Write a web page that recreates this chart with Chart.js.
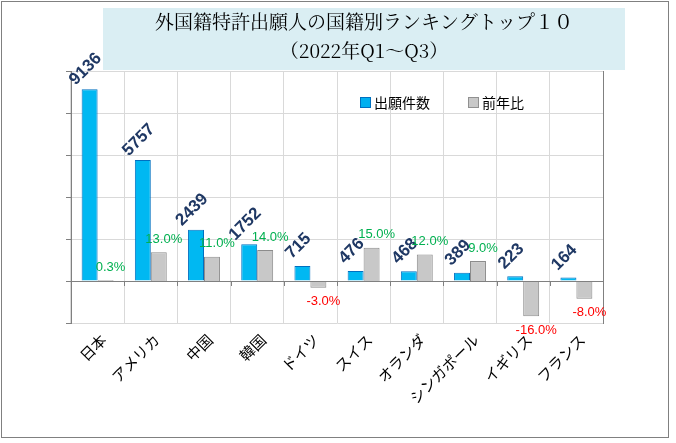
<!DOCTYPE html>
<html>
<head>
<meta charset="utf-8">
<script src="https://cdn.jsdelivr.net/npm/chart.js@4.4.0/dist/chart.umd.min.js"></script>
<style>
  html, body { margin: 0; padding: 0; background: #fff; }
  #wrap { position: relative; width: 676px; height: 443px; }
</style>
</head>
<body>
<div id="wrap"><canvas id="chart" width="676" height="443"></canvas></div>
<script>
    "use strict";

    // data
    var categories = ["日本", "アメリカ", "中国", "韓国", "ドイツ", "スイス", "オランダ", "シンガポール", "イギリス", "フランス"];
    var applications = [9136, 5757, 2439, 1752, 715, 476, 468, 389, 223, 164];
    var yoyChange = [0.3, 13.0, 11.0, 14.0, -3.0, 15.0, 12.0, 9.0, -16.0, -8.0];
    var titleLines = ["外国籍特許出願人の国籍別ランキングトップ１０", "（2022年Q1～Q3）"];
    var legendLabels = ["出願件数", "前年比"];

    // frame, title box, legend and labels
    var decor = {
        id: "decor",
        beforeDraw: function (chart) {
            var c = chart.ctx;
            c.save();
            c.fillStyle = "#fff";
            c.fillRect(0, 0, chart.width, chart.height);
            c.strokeStyle = "#808080";
            c.lineWidth = 1;
            c.strokeRect(1.5, 1.5, 667, 436);
            c.fillStyle = "#DAEEF3";
            c.fillRect(103, 8, 522, 62);
            c.fillStyle = "#000";
            c.font = "19px 'Noto Serif CJK JP', 'Noto Sans CJK JP', serif";
            c.textAlign = "center";
            c.textBaseline = "middle";
            c.fillText(titleLines[0], 364, 22);
            c.fillText(titleLines[1], 364, 51);
            c.restore();
        },
        afterDatasetsDraw: function (chart) {
            var c = chart.ctx;
            var m0 = chart.getDatasetMeta(0), m1 = chart.getDatasetMeta(1);
            c.save();
            // value labels
            c.font = "bold 17px Arial, 'Liberation Sans', sans-serif";
            c.fillStyle = "#1F3864";
            c.textBaseline = "middle";
            c.textAlign = "center";
            m0.data.forEach(function (bar, i) {
                c.save();
                c.translate(bar.x - 4, bar.y - 20);
                c.rotate(-Math.PI / 4);
                c.fillText(String(applications[i]), 0, 0);
                c.restore();
            });
            c.font = "13px Arial, 'Liberation Sans', sans-serif";
            m1.data.forEach(function (bar, i) {
                var v = yoyChange[i];
                c.fillStyle = v < 0 ? "#FF0000" : "#00B050";
                var y = v < 0 ? bar.y + 14 : bar.y - 13;
                c.fillText(v.toFixed(1) + "%", bar.x + 5, y);
            });
            // category labels
            var xs = chart.scales.x;
            c.font = "15px 'Noto Sans CJK JP', sans-serif";
            c.fillStyle = "#000";
            c.textAlign = "right";
            categories.forEach(function (lab, i) {
                c.save();
                c.translate(xs.getPixelForValue(i) + 6, chart.chartArea.bottom + 14);
                c.rotate(-Math.PI / 4);
                c.fillText(lab, 0, 0);
                c.restore();
            });
            // legend
            c.font = "14px 'Noto Sans CJK JP', sans-serif";
            c.textAlign = "left";
            c.fillStyle = "#00B0F0";
            c.fillRect(360, 97, 10, 10);
            c.strokeStyle = "#0070C0";
            c.strokeRect(360.5, 97.5, 10, 10);
            c.fillStyle = "#000";
            c.fillText(legendLabels[0], 374, 103);
            c.fillStyle = "#C8C8C8";
            c.fillRect(468, 97, 10, 10);
            c.strokeStyle = "#909090";
            c.strokeRect(468.5, 97.5, 10, 10);
            c.fillStyle = "#000";
            c.fillText(legendLabels[1], 482, 103);
            // zero line with ticks, left axis ticks
            var ys = chart.scales.y;
            var yz = ys.getPixelForValue(0);
            var a = chart.chartArea;
            c.strokeStyle = "#808080";
            c.beginPath();
            c.moveTo(a.left, yz + 0.5);
            c.lineTo(a.right, yz + 0.5);
            for (var k = 0; k <= categories.length; k++) {
                var x = Math.round(a.left + k * a.width / categories.length) + 0.5;
                c.moveTo(x, yz);
                c.lineTo(x, yz + 5);
            }
            for (var t = -2000; t <= 10000; t += 2000) {
                var ty = Math.round(ys.getPixelForValue(t)) + 0.5;
                c.moveTo(a.left - 5, ty);
                c.lineTo(a.left, ty);
            }
            c.stroke();
            c.restore();
        }
    };

    var ctx = document.getElementById("chart").getContext("2d");
    var myChart = new Chart(ctx, {
        type: "bar",
        data: {
            labels: categories,
            datasets: [{
                    label: legendLabels[0],
                    data: applications,
                    yAxisID: "y",
                    backgroundColor: "#00B8F2",
                    borderColor: "#0070C0",
                    borderWidth: 1,
                    categoryPercentage: 0.6,
                    barPercentage: 1.0
                },
                {
                    label: legendLabels[1],
                    data: yoyChange,
                    yAxisID: "y2",
                    backgroundColor: "#C8C8C8",
                    borderColor: "#8C8C8C",
                    borderWidth: 1,
                    categoryPercentage: 0.6,
                    barPercentage: 1.0
                }
            ]
        },
        options: {
            responsive: false,
            animation: false,
            layout: { padding: { left: 71, right: 73, top: 71, bottom: 120 } },
            plugins: { legend: { display: false }, tooltip: { enabled: false } },
            scales: {
                x: {
                    ticks: { display: false },
                    grid: { color: "#D9D9D9", offset: true, drawTicks: false },
                    border: { display: false }
                },
                y: {
                    min: -2000, max: 10000,
                    ticks: { display: false, stepSize: 2000 },
                    grid: { color: "#D9D9D9", drawTicks: false },
                    border: { color: "#808080" }
                },
                y2: {
                    position: "right",
                    min: -19, max: 95,
                    ticks: { display: false },
                    grid: { display: false, drawTicks: false },
                    border: { color: "#808080" }
                }
            }
        },
        plugins: [decor]
    });
</script>
</body>
</html>
